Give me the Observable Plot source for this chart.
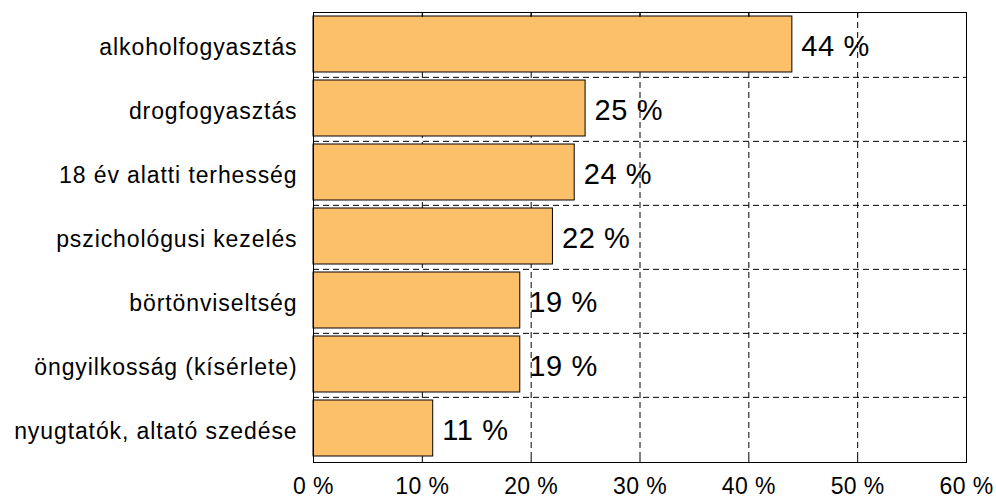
<!DOCTYPE html>
<html><head><meta charset="utf-8">
<script src="https://cdn.jsdelivr.net/npm/d3@7"></script>
<script src="https://cdn.jsdelivr.net/npm/@observablehq/plot@0.6"></script>
<style>
body{margin:0;background:#fff}
svg{display:block}
g[aria-label="y-axis tick label"] text{letter-spacing:0.9px}
g[aria-label="x-axis tick label"] text{letter-spacing:0.4px}
g[aria-label="text"] text{letter-spacing:0.6px}
</style></head>
<body><div id="chart"></div>
<script>
const categories = ["alkoholfogyasztás","drogfogyasztás","18 év alatti terhesség","pszichológusi kezelés","börtönviseltség","öngyilkosság (kísérlete)","nyugtatók, altató szedése"];
const values = [44,25,24,22,19,19,11];
const xTicks = [0,10,20,30,40,50,60];
const gridTicks = [10,20,30,40,50];
const data = categories.map((c,i)=>({category:c, value:values[i]}));
const H = 496, W = 996, mT = 12, mB = 34;
const step = (H - mT - mB) / categories.length;
const chart = Plot.plot({
  width: W, height: H, marginLeft: 313, marginRight: 30, marginTop: mT, marginBottom: mB,
  style: {fontFamily: "'Liberation Sans', Arial, sans-serif", background: "white", color: "black"},
  x: {domain: [0, 60]},
  y: {domain: categories, padding: 0},
  marks: [
    Plot.ruleX(gridTicks, {stroke: "black", strokeDasharray: "6,4", strokeWidth: 1}),
    Plot.ruleY(categories.slice(1), {stroke: "black", strokeDasharray: "6,4", dy: -step/2}),
    Plot.barX(data, {x: "value", y: "category", fill: "#fdc06a", stroke: "black", strokeWidth: 1, insetTop: 3, insetBottom: 5}),
    Plot.text(data, {x: "value", y: "category", text: d => `${d.value} %`, textAnchor: "start", dx: 9, dy: 1.5, fontSize: 29, fill: "black"}),
    Plot.axisX(xTicks, {anchor: "bottom", tickSize: 0, tickPadding: 15, fontSize: 23, tickFormat: d => `${d} %`, label: null}),
    Plot.axisX(xTicks, {anchor: "bottom", tickSize: -4, tickFormat: () => "", label: null}),
    Plot.axisX(xTicks, {anchor: "top", tickSize: -4, tickFormat: () => "", label: null}),
    Plot.axisY({tickSize: 0, tickPadding: 16, fontSize: 23, dy: 2, label: null}),
    Plot.frame({stroke: "black"})
  ]
});
document.getElementById("chart").append(chart);
</script>
</body></html>
